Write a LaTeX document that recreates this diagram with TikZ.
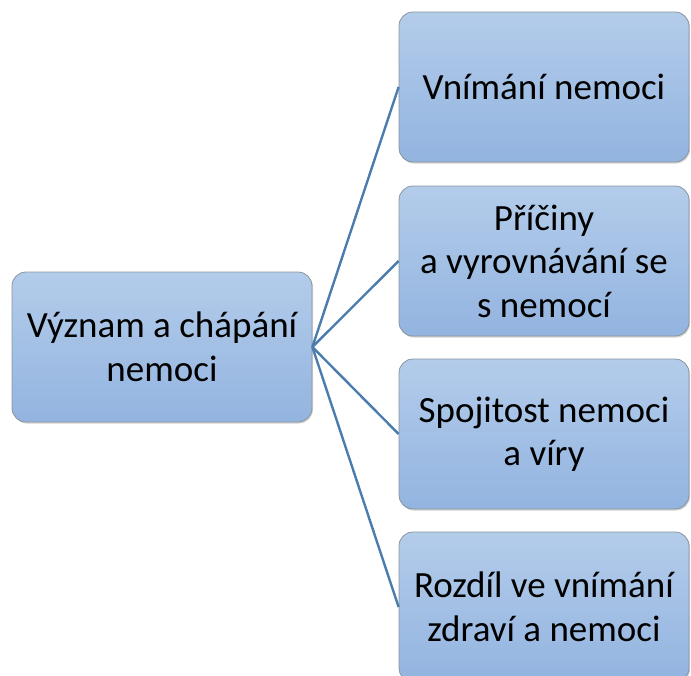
\documentclass[tikz,border=0pt]{standalone}
\usepackage{fontspec}
\setmainfont{Carlito}
\usetikzlibrary{shadows}
\definecolor{boxtop}{HTML}{B3CCEA}
\definecolor{boxbot}{HTML}{93B4E0}
\definecolor{boxline}{HTML}{8A949E}
\definecolor{linkblue}{HTML}{4A7DAE}
\tikzset{
  topic/.style={rounded corners=14pt, draw=boxline, line width=0.8pt,
    top color=boxtop, bottom color=boxbot,
    drop shadow={shadow xshift=1pt, shadow yshift=-1.5pt, opacity=0.35},
    minimum width=290pt, minimum height=150pt, align=center,
    font=\fontsize{37}{43.5}\selectfont, text=black, inner sep=0pt},
  link/.style={draw=linkblue, line width=2.4pt}
}
\begin{document}
\begin{tikzpicture}[x=1pt,y=-1pt]
  \useasboundingbox (0,0) rectangle (691,675);
  \clip (0,0) rectangle (691,675);
  \node[topic, minimum width=300pt, minimum height=150pt] (root) at (162,347)
    {Význam a chápání\\nemoci};
  \node[topic] (a) at (544,87) {Vnímání nemoci};
  \node[topic] (b) at (544,261) {Příčiny\\a vyrovnávání se\\s nemocí};
  \node[topic] (c) at (544,434) {Spojitost nemoci\\a víry};
  \node[topic] (d) at (544,607) {Rozdíl ve vnímání\\zdraví a nemoci};
  \foreach \t in {a,b,c,d}
    \draw[link] (root.east) -- (\t.west);
\end{tikzpicture}
\end{document}
